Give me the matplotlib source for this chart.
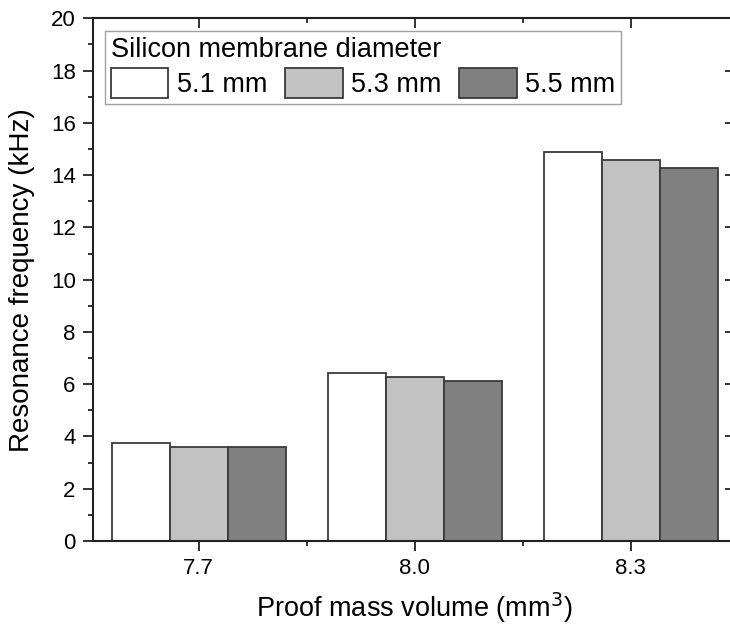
import numpy as np
from matplotlib import pyplot as plt

# proof mass volume (mm^3) and resonance frequency (kHz) per membrane diameter
volumes = [7.7, 8.0, 8.3]
diameters = ['5.1 mm', '5.3 mm', '5.5 mm']
freq_51 = [3.74, 6.42, 14.90]
freq_53 = [3.61, 6.29, 14.59]
freq_55 = [3.61, 6.13, 14.29]

plt.rcParams['font.family'] = ['Liberation Sans', 'DejaVu Sans']

fig = plt.figure(figsize=(7.3, 6.29), dpi=100)
# right spine sits just past the image edge, as in the cropped original
ax = fig.add_axes([93 / 730, 1 - 541 / 629, 642 / 730, 522.7 / 629])

width = 0.0806
colors = ['white', '#c2c2c2', '#808080']
x = np.array(volumes)
for i, (vals, c, lab) in enumerate(zip([freq_51, freq_53, freq_55], colors, diameters)):
    ax.bar(x + (i - 1) * width, vals, width, color=c, edgecolor='#3a3a3a',
           linewidth=1.3, label=lab)

ax.set_xlim(7.553, 8.445)
ax.set_ylim(0, 20)
ax.set_xticks(volumes)
ax.set_xticklabels(['7.7', '8.0', '8.3'])
ax.set_xticks([7.85, 8.15], minor=True)
ax.set_yticks(range(0, 21, 2))
ax.set_yticks(range(1, 20, 2), minor=True)

ax.tick_params(which='both', labelsize=16, width=1.3, color='#222222', pad=5)
ax.tick_params(which='major', length=7.5)
ax.tick_params(which='minor', length=3.6)
ax.tick_params(axis='x', which='both', top=True, direction='out')
ax.tick_params(axis='y', which='both', right=True, direction='out')
# top and right ticks point inward
for t in ax.xaxis.get_ticklines(minor=False)[1::2] + ax.xaxis.get_ticklines(minor=True)[1::2]:
    t.set_marker(3)
for t in ax.yaxis.get_ticklines(minor=False)[1::2] + ax.yaxis.get_ticklines(minor=True)[1::2]:
    t.set_marker(0)
for s in ax.spines.values():
    s.set_linewidth(1.5)
    s.set_color('#222222')

ax.set_xlabel('Proof mass volume (mm$^3$)', fontsize=19.5, labelpad=8)
ax.set_ylabel('Resonance frequency (kHz)', fontsize=20, labelpad=11)

leg = ax.legend(title='Silicon membrane diameter', ncol=3, loc='upper left',
                bbox_to_anchor=(0.018, 0.976), borderaxespad=0, fontsize=19.5,
                title_fontsize=19.5, alignment='left', handlelength=2.14,
                handleheight=1.3, handletextpad=0.3, columnspacing=0.65,
                labelspacing=0.2, borderpad=0.22, fancybox=False,
                framealpha=1, edgecolor='#a0a0a0')
leg.get_frame().set_linewidth(1.0)

fig.savefig('out.png', dpi=100)
